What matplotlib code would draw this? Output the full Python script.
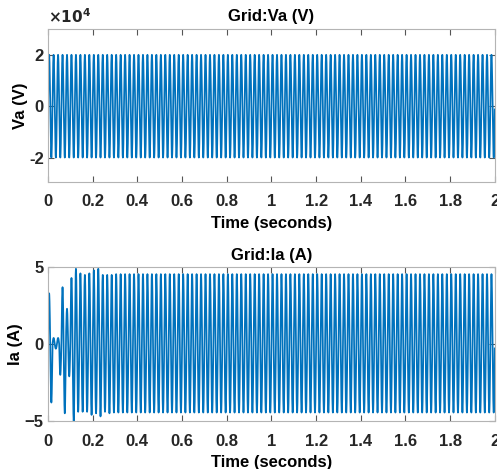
import numpy as np
import matplotlib
matplotlib.use('Agg')
import matplotlib.pyplot as plt

# grid measurements
grid_freq = 50.0            # Hz
t_end = 2.0                 # s
va_peak = 2.0e4             # V

# current peaks per 10 ms half cycle during start-up (A)
ia_half_peaks = [3.3, 3.8, 0.4, 0.3, 0.4, 2.0, 3.7, 4.5, 2.3, 2.1,
                 4.3, 5.0, 4.9, 4.4, 4.6, 4.4, 4.5, 4.4, 4.6, 4.6,
                 4.8, 4.5, 4.9, 4.7, 4.5, 4.4, 4.5, 4.5, 4.5, 4.45]
ia_steady_pos = 4.55
ia_steady_neg = 4.45

xticks = [0, 0.2, 0.4, 0.6, 0.8, 1, 1.2, 1.4, 1.6, 1.8, 2]
xticklabels = ['0', '0.2', '0.4', '0.6', '0.8', '1', '1.2', '1.4', '1.6', '1.8', '2']

blue = '#0072BD'
plt.rcParams['font.family'] = ['Liberation Sans Narrow', 'Liberation Sans', 'DejaVu Sans']
plt.rcParams['font.weight'] = 'bold'

t = np.arange(0, t_end, 2e-4)
carrier = np.sin(2 * np.pi * grid_freq * t)
va = va_peak * carrier

half = np.floor(t / 0.01).astype(int)
amp = np.where(carrier >= 0, ia_steady_pos, ia_steady_neg)
startup = half < len(ia_half_peaks)
amp[startup] = np.array(ia_half_peaks)[half[startup]]
ia = amp * carrier

fig = plt.figure(figsize=(4.97, 4.69), dpi=100)
ax1 = fig.add_axes([0.0966, 0.612, 0.899, 0.326])
ax2 = fig.add_axes([0.0966, 0.1023, 0.899, 0.328])


def style(ax):
    ax.set_xlim(0, 2)
    ax.set_xticks(xticks)
    ax.set_xticklabels(xticklabels)
    for s in ax.spines.values():
        s.set_color('#b4b4b4')
        s.set_linewidth(0.8)
    ax.tick_params(direction='in', top=True, right=True, colors='#555555',
                   labelcolor='#262626', labelsize=12, length=4, width=0.8)
    ax.tick_params(axis='x', pad=9)
    ax.tick_params(axis='y', pad=3)


ax1.plot(t, va, color=blue, lw=1.25)
style(ax1)
ax1.set_ylim(-2.95e4, 3.0e4)
ax1.set_yticks([-2e4, 0, 2e4])
ax1.set_yticklabels(['-2', '0', '2'])
ax1.text(0, 1.02, r'$\times 10^4$', transform=ax1.transAxes, fontsize=11,
         color='#262626', ha='left', va='bottom')
ax1.set_title('Grid:Va (V)', fontsize=12, fontweight='bold', pad=6)
ax1.set_xlabel('Time (seconds)', fontsize=12, fontweight='bold', labelpad=5)
ax1.set_ylabel('Va (V)', fontsize=12, fontweight='bold', labelpad=1)

ax2.plot(t, ia, color=blue, lw=1.25)
style(ax2)
ax2.set_ylim(-5, 5)
ax2.set_yticks([-5, 0, 5])
ax2.set_title('Grid:Ia (A)', fontsize=12, fontweight='bold', pad=5)
ax2.set_xlabel('Time (seconds)', fontsize=12, fontweight='bold', labelpad=5)
ax2.set_ylabel('Ia (A)', fontsize=12, fontweight='bold', labelpad=1)

fig.savefig('out.png', dpi=100)
